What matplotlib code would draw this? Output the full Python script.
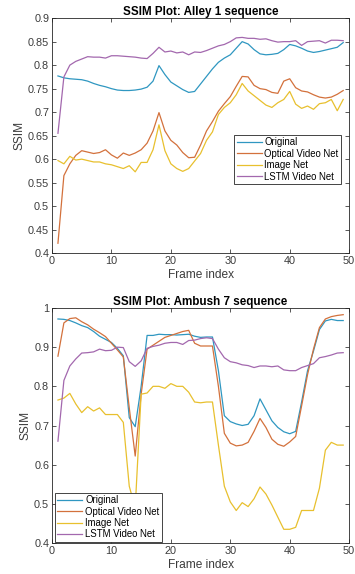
import matplotlib
matplotlib.use("Agg")
import matplotlib.pyplot as plt
import numpy as np

frames = np.arange(1, 50)
series_names = ["Original", "Optical Video Net", "Image Net", "LSTM Video Net"]
colors = ["#2f97c1", "#d3713c", "#e8c02e", "#a368ae"]

# Alley 1 sequence
alley_original = [0.777, 0.773, 0.771, 0.770, 0.769, 0.766, 0.761, 0.757, 0.754, 0.750,
                  0.747, 0.746, 0.746, 0.747, 0.749, 0.753, 0.766, 0.799, 0.780, 0.764,
                  0.756, 0.748, 0.742, 0.744, 0.760, 0.776, 0.792, 0.806, 0.815, 0.822,
                  0.836, 0.850, 0.845, 0.833, 0.824, 0.822, 0.823, 0.825, 0.833, 0.844,
                  0.841, 0.836, 0.830, 0.827, 0.829, 0.832, 0.835, 0.838, 0.848]
alley_optical = [0.421, 0.565, 0.590, 0.608, 0.618, 0.615, 0.612, 0.614, 0.620, 0.609,
                 0.602, 0.613, 0.608, 0.613, 0.620, 0.634, 0.660, 0.699, 0.660, 0.640,
                 0.630, 0.614, 0.603, 0.604, 0.630, 0.660, 0.680, 0.702, 0.718, 0.733,
                 0.755, 0.776, 0.775, 0.757, 0.750, 0.748, 0.742, 0.740, 0.766, 0.771,
                 0.752, 0.745, 0.743, 0.737, 0.732, 0.730, 0.732, 0.738, 0.746]
alley_image = [0.597, 0.590, 0.606, 0.598, 0.600, 0.597, 0.594, 0.594, 0.590, 0.588,
               0.584, 0.580, 0.586, 0.573, 0.593, 0.593, 0.620, 0.673, 0.618, 0.590,
               0.580, 0.574, 0.580, 0.596, 0.612, 0.640, 0.658, 0.695, 0.710, 0.720,
               0.737, 0.761, 0.745, 0.735, 0.725, 0.715, 0.710, 0.720, 0.727, 0.744,
               0.717, 0.708, 0.713, 0.706, 0.718, 0.720, 0.727, 0.703, 0.727]
alley_lstm = [0.655, 0.775, 0.800, 0.808, 0.813, 0.818, 0.817, 0.817, 0.815, 0.820,
              0.820, 0.819, 0.818, 0.817, 0.815, 0.814, 0.825, 0.838, 0.828, 0.830,
              0.826, 0.828, 0.822, 0.828, 0.827, 0.831, 0.836, 0.841, 0.844, 0.850,
              0.858, 0.859, 0.857, 0.857, 0.855, 0.856, 0.852, 0.849, 0.850, 0.850,
              0.852, 0.842, 0.850, 0.851, 0.852, 0.847, 0.853, 0.853, 0.852]

# Ambush 7 sequence
ambush_original = [0.972, 0.971, 0.968, 0.962, 0.955, 0.950, 0.940, 0.928, 0.920, 0.912,
                   0.897, 0.878, 0.720, 0.697, 0.800, 0.930, 0.930, 0.933, 0.932, 0.932,
                   0.931, 0.932, 0.933, 0.928, 0.925, 0.926, 0.926, 0.840, 0.725, 0.710,
                   0.704, 0.700, 0.703, 0.725, 0.768, 0.740, 0.712, 0.695, 0.684, 0.679,
                   0.685, 0.760, 0.840, 0.890, 0.945, 0.967, 0.971, 0.968, 0.968]
ambush_optical = [0.877, 0.962, 0.973, 0.975, 0.965, 0.957, 0.946, 0.937, 0.927, 0.910,
                  0.893, 0.875, 0.745, 0.622, 0.780, 0.895, 0.905, 0.915, 0.925, 0.930,
                  0.935, 0.940, 0.943, 0.910, 0.903, 0.903, 0.903, 0.800, 0.680, 0.655,
                  0.648, 0.650, 0.657, 0.685, 0.718, 0.695, 0.665, 0.652, 0.647, 0.658,
                  0.672, 0.750, 0.830, 0.895, 0.950, 0.972, 0.978, 0.981, 0.983]
ambush_image = [0.765, 0.770, 0.782, 0.755, 0.733, 0.748, 0.737, 0.745, 0.728, 0.728,
                0.728, 0.708, 0.545, 0.490, 0.780, 0.783, 0.800, 0.800, 0.795, 0.807,
                0.800, 0.800, 0.785, 0.760, 0.758, 0.760, 0.760, 0.650, 0.545, 0.505,
                0.483, 0.503, 0.493, 0.513, 0.543, 0.525, 0.497, 0.466, 0.435, 0.435,
                0.440, 0.483, 0.483, 0.483, 0.540, 0.637, 0.657, 0.650, 0.650]
ambush_lstm = [0.660, 0.815, 0.852, 0.870, 0.885, 0.886, 0.888, 0.895, 0.891, 0.892,
               0.900, 0.899, 0.863, 0.851, 0.865, 0.897, 0.902, 0.905, 0.910, 0.912,
               0.912, 0.907, 0.917, 0.918, 0.922, 0.924, 0.922, 0.895, 0.873, 0.863,
               0.860, 0.855, 0.853, 0.848, 0.852, 0.852, 0.850, 0.852, 0.842, 0.840,
               0.840, 0.848, 0.853, 0.858, 0.873, 0.876, 0.880, 0.885, 0.886]

plt.rcParams["font.family"] = ["Liberation Sans", "DejaVu Sans"]
fig = plt.figure(figsize=(3.55, 5.74), dpi=100)
ax_top = fig.add_axes([0.1465, 0.559, 0.837, 0.4094])
ax_bot = fig.add_axes([0.1465, 0.054, 0.837, 0.4094])


def draw_panel(ax, title, data, ylim, yticks, yticklabels, legend_loc, legend_anchor):
    for values, name, color in zip(data, series_names, colors):
        ax.plot(frames, values, color=color, lw=0.9, label=name)
    ax.set_xlim(0, 50)
    ax.set_ylim(*ylim)
    ax.set_xticks([0, 10, 20, 30, 40, 50])
    ax.set_yticks(yticks)
    ax.set_yticklabels(yticklabels)
    ax.tick_params(direction="in", top=True, right=True, labelsize=7.8,
                   length=3, width=0.6, colors="#3c3c3c", pad=2)
    for spine in ax.spines.values():
        spine.set_linewidth(0.6)
        spine.set_color("#262626")
    ax.set_title(title, fontsize=8.4, fontweight="bold", pad=2)
    ax.set_xlabel("Frame index", fontsize=8.6, color="#3c3c3c", labelpad=2)
    ax.set_ylabel("SSIM", fontsize=8.6, color="#3c3c3c", labelpad=2)
    leg = ax.legend(loc=legend_loc, bbox_to_anchor=legend_anchor, fontsize=6.9,
                    fancybox=False, framealpha=1, edgecolor="#262626",
                    handlelength=2.6, handletextpad=0.3, borderpad=0.25,
                    labelspacing=0.15, borderaxespad=0)
    leg.get_frame().set_linewidth(0.6)


draw_panel(ax_top, "SSIM Plot: Alley 1 sequence",
           [alley_original, alley_optical, alley_image, alley_lstm],
           (0.4, 0.9), np.arange(0.4, 0.901, 0.05),
           ["0.4", "0.45", "0.5", "0.55", "0.6", "0.65", "0.7", "0.75", "0.8", "0.85", "0.9"],
           "lower right", (0.973, 0.294))
draw_panel(ax_bot, "SSIM Plot: Ambush 7 sequence",
           [ambush_original, ambush_optical, ambush_image, ambush_lstm],
           (0.4, 1.0), np.arange(0.4, 1.001, 0.1),
           ["0.4", "0.5", "0.6", "0.7", "0.8", "0.9", "1"],
           "lower left", (0.01, 0.005))

fig.savefig("out.png", dpi=100)
